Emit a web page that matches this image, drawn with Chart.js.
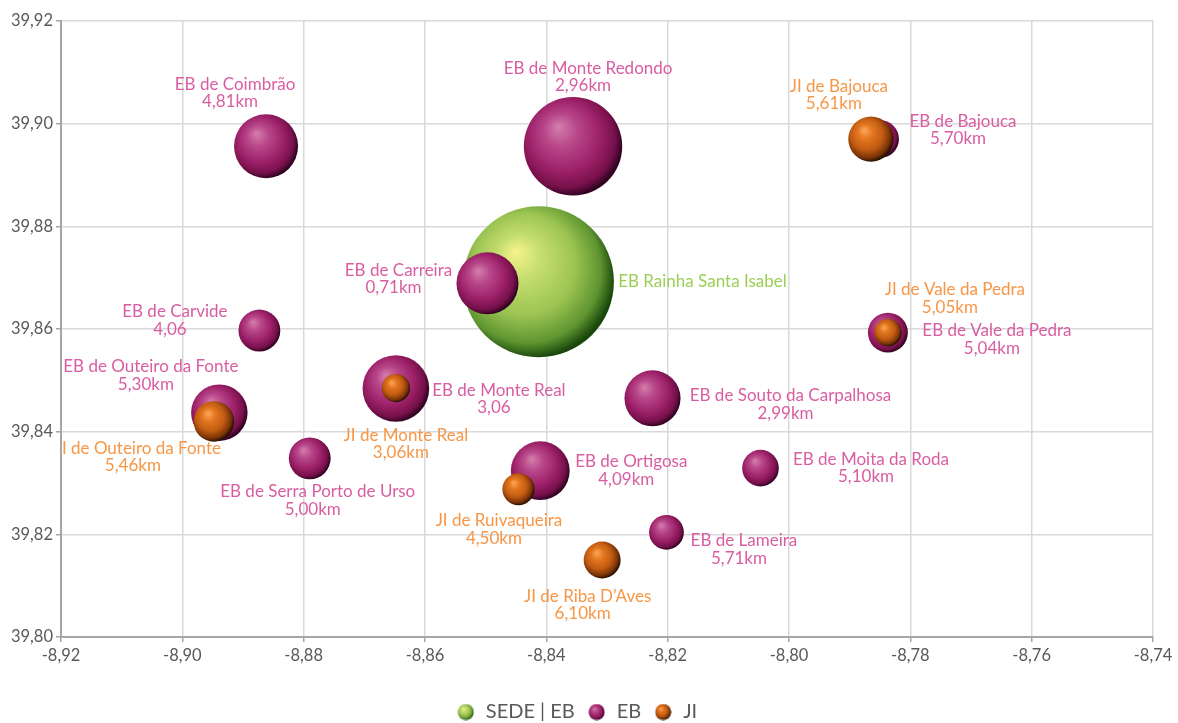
<!DOCTYPE html>
<html lang="pt">
<head>
<meta charset="utf-8">
<title>Escolas - distâncias à sede</title>
<script src="https://cdn.jsdelivr.net/npm/chart.js@4.4.1/dist/chart.umd.min.js"></script>
<style>
  html, body { margin: 0; padding: 0; background: #fff; overflow: hidden; }
  canvas { display: block; }
</style>
</head>
<body>
<canvas id="bubbles" width="1178" height="732"></canvas>
<script>
// dados (longitude, latitude, tamanho da bolha)
const seriesNames = ['SEDE | EB', 'EB', 'JI'];

const sedeNames = ['EB Rainha Santa Isabel'];
const sedeDist = [''];
const sedeX = [-8.8413];
const sedeY = [39.8692];
const sedeSize = [100];

const ebNames = ['EB de Coimbrão', 'EB de Monte Redondo', 'EB de Bajouca', 'EB de Carreira', 'EB de Carvide',
    'EB de Vale da Pedra', 'EB de Outeiro da Fonte', 'EB de Monte Real', 'EB de Souto da Carpalhosa',
    'EB de Serra Porto de Urso', 'EB de Ortigosa', 'EB de Moita da Roda', 'EB de Lameira'];
const ebDist = ['4,81km', '2,96km', '5,70km', '0,71km', '4,06', '5,04km', '5,30km', '3,06', '2,99km',
    '5,00km', '4,09km', '5,10km', '5,71km'];
const ebX = [-8.8862, -8.8356, -8.7850, -8.8497, -8.8873, -8.7837, -8.8939, -8.8648, -8.8225,
    -8.8790, -8.8410, -8.8047, -8.8202];
const ebY = [39.8956, 39.8956, 39.8970, 39.8689, 39.8597, 39.8593, 39.8437, 39.8484, 39.8465,
    39.8348, 39.8324, 39.8329, 39.8204];
const ebSize = [18, 42.5, 6.3, 16.9, 7.7, 7.0, 14, 19.5, 13.8, 7.7, 15.2, 5.9, 5.3];

const jiNames = ['JI de Bajouca', 'JI de Vale da Pedra', 'JI de Outeiro da Fonte', 'JI de Monte Real',
    'JI de Ruivaqueira', 'JI de Riba D’Aves'];
const jiDist = ['5,61km', '5,05km', '5,46km', '3,06km', '4,50km', '6,10km'];
const jiX = [-8.7865, -8.7837, -8.8948, -8.8648, -8.8446, -8.8308];
const jiY = [39.8970, 39.8593, 39.8420, 39.8485, 39.8288, 39.8150];
const jiSize = [9, 3.3, 7.2, 3.5, 4.5, 6.0];

const xTicks = [-8.92, -8.74, 0.02];
const yTicks = [39.80, 39.92, 0.02];

// posição dos rótulos (centro do bloco de texto relativo à bolha, px)
const sedeLabelPos = [[164, 0]];
const ebLabelPos = [[-31, -53], [15, -69], [83, -9], [-89, -4.5], [-84.5, -10], [109, 7], [-68.5, -37],
    [103, 10.5], [138, 6], [8, 42], [91, 0], [110.5, 0], [77.5, 17]];
const jiLabelPos = [[-32, -44], [67, -34], [-76, 35.5], [10, 56], [-19.5, 40.5], [-14.5, 45]];

// cores (gradiente de esfera)
const sphereStops = {
    green: [[0, '#f6f48c'], [0.25, '#c6de70'], [0.6, '#9cc452'], [0.86, '#5e9430'], [1, '#1a480c']],
    magenta: [[0, '#d47fab'], [0.3, '#b8478a'], [0.65, '#9c2068'], [0.88, '#76104a'], [1, '#300322']],
    orange: [[0, '#ffa75c'], [0.3, '#e2761f'], [0.62, '#c25c12'], [0.87, '#7c3408'], [1, '#261002']]
};
const labelColors = ['#9bcf56', '#d95da1', '#f79646'];
const fontFamily = 'Lato, "Open Sans", sans-serif';
const bubbleScale = 0.245;

function fmt(v) {
    return v.toFixed(2).replace('.', ',');
}

function points(xs, ys, sizes) {
    return xs.map((x, i) => ({ x: x, y: ys[i], size: sizes[i], r: 0 }));
}

const maxSize = Math.max(...sedeSize, ...ebSize, ...jiSize);

// como no Excel: a maior bolha ocupa 25% da menor dimensão da área do gráfico, área proporcional ao tamanho
function bubbleRadius(chart, size) {
    const area = chart.chartArea;
    if (!area) return 0;
    const w = area.right - area.left, h = area.bottom - area.top;
    return Math.min(w, h) * bubbleScale / 2 * Math.sqrt(size / maxSize);
}

function sphere(ctx2d, cx, cy, r, stops) {
    const g = ctx2d.createRadialGradient(cx - 0.3 * r, cy - 0.4 * r, 0, cx - 0.12 * r, cy - 0.12 * r, 1.13 * r);
    stops.forEach(s => g.addColorStop(s[0], s[1]));
    return g;
}

function sphereFill(stops, plain) {
    return function (context) {
        if (context.type !== 'data' || !context.raw) return plain;
        const chart = context.chart;
        const cx = chart.scales.x.getPixelForValue(context.raw.x);
        const cy = chart.scales.y.getPixelForValue(context.raw.y);
        const r = context.raw.r;
        if (!isFinite(cx) || !isFinite(cy) || !(r > 0)) return plain;
        return sphere(chart.ctx, cx, cy, r, stops);
    };
}

function legendBall(stops) {
    const c = document.createElement('canvas');
    c.width = 17;
    c.height = 17;
    const g = c.getContext('2d');
    g.fillStyle = sphere(g, 8.5, 8.5, 8, stops);
    g.beginPath();
    g.arc(8.5, 8.5, 8, 0, Math.PI * 2);
    g.fill();
    return c;
}

const legendIcons = [legendBall(sphereStops.green), legendBall(sphereStops.magenta), legendBall(sphereStops.orange)];

// rótulos das bolhas
const bubbleLabels = {
    id: 'bubbleLabels',
    afterDatasetsDraw(chart) {
        const ctx = chart.ctx;
        const area = chart.chartArea;
        ctx.save();
        ctx.beginPath();
        ctx.rect(area.left, area.top, area.right - area.left, area.bottom - area.top);
        ctx.clip();
        ctx.font = '17px ' + fontFamily;
        ctx.textAlign = 'center';
        ctx.textBaseline = 'middle';
        chart.data.datasets.forEach((ds, i) => {
            const meta = chart.getDatasetMeta(i);
            ctx.fillStyle = labelColors[i];
            meta.data.forEach((el, j) => {
                const lines = [ds.names[j], ds.dists[j]].filter(Boolean);
                const pos = ds.labelPos[j];
                const cx = el.x + pos[0];
                const top = el.y + pos[1] - (lines.length - 1) * 17.5 / 2;
                lines.forEach((t, k) => {
                    ctx.fillText(t, cx - (k > 0 ? 5 : 0), top + k * 17.5);
                });
            });
        });
        ctx.restore();
    }
};

const datasets = [
    { label: seriesNames[0], data: points(sedeX, sedeY, sedeSize), names: sedeNames, dists: sedeDist,
      labelPos: sedeLabelPos, order: 3, backgroundColor: sphereFill(sphereStops.green, '#9cc452') },
    { label: seriesNames[1], data: points(ebX, ebY, ebSize), names: ebNames, dists: ebDist,
      labelPos: ebLabelPos, order: 2, backgroundColor: sphereFill(sphereStops.magenta, '#9c2068') },
    { label: seriesNames[2], data: points(jiX, jiY, jiSize), names: jiNames, dists: jiDist,
      labelPos: jiLabelPos, order: 1, backgroundColor: sphereFill(sphereStops.orange, '#c25c12') }
];

const tickFont = { family: fontFamily, size: 16.5 };

const chart = new Chart(document.getElementById('bubbles').getContext('2d'), {
    type: 'bubble',
    data: { datasets: datasets },
    options: {
        responsive: false,
        animation: false,
        events: [],
        layout: { autoPadding: false, padding: { top: 21, right: 25, left: 0, bottom: 0 } },
        elements: { point: { borderWidth: 0 } },
        scales: {
            x: {
                type: 'linear',
                min: xTicks[0],
                max: xTicks[1],
                afterFit: s => { s.height = 53; },
                ticks: { stepSize: xTicks[2], color: '#595959', font: tickFont, padding: 4,
                    maxRotation: 0, callback: v => fmt(v) },
                grid: { color: '#d9d9d9', lineWidth: 1.5, tickLength: 5, tickColor: '#a6a6a6' },
                border: { color: '#a6a6a6', width: 2 }
            },
            y: {
                type: 'linear',
                min: yTicks[0],
                max: yTicks[1],
                afterFit: s => { s.width = 61; },
                ticks: { stepSize: yTicks[2], color: '#595959', font: tickFont, padding: 3,
                    callback: v => fmt(v) },
                grid: { color: '#d9d9d9', lineWidth: 1.5, tickLength: 5, tickColor: '#a6a6a6' },
                border: { color: '#a6a6a6', width: 2 }
            }
        },
        plugins: {
            tooltip: { enabled: false },
            legend: {
                position: 'bottom',
                labels: {
                    usePointStyle: true,
                    padding: 12,
                    color: '#595959',
                    font: { family: fontFamily, size: 20 },
                    sort: (a, b) => a.datasetIndex - b.datasetIndex,
                    generateLabels: c => c.data.datasets.map((ds, i) => ({
                        text: ds.label,
                        datasetIndex: i,
                        pointStyle: legendIcons[i],
                        fillStyle: 'transparent',
                        strokeStyle: 'transparent',
                        lineWidth: 0,
                        fontColor: '#595959',
                        hidden: false
                    }))
                }
            }
        }
    },
    plugins: [bubbleLabels]
});

// segunda passagem: raio das bolhas a partir da área do gráfico já calculada
chart.data.datasets.forEach(ds => ds.data.forEach(p => { p.r = bubbleRadius(chart, p.size); }));
chart.update();
</script>
</body>
</html>
